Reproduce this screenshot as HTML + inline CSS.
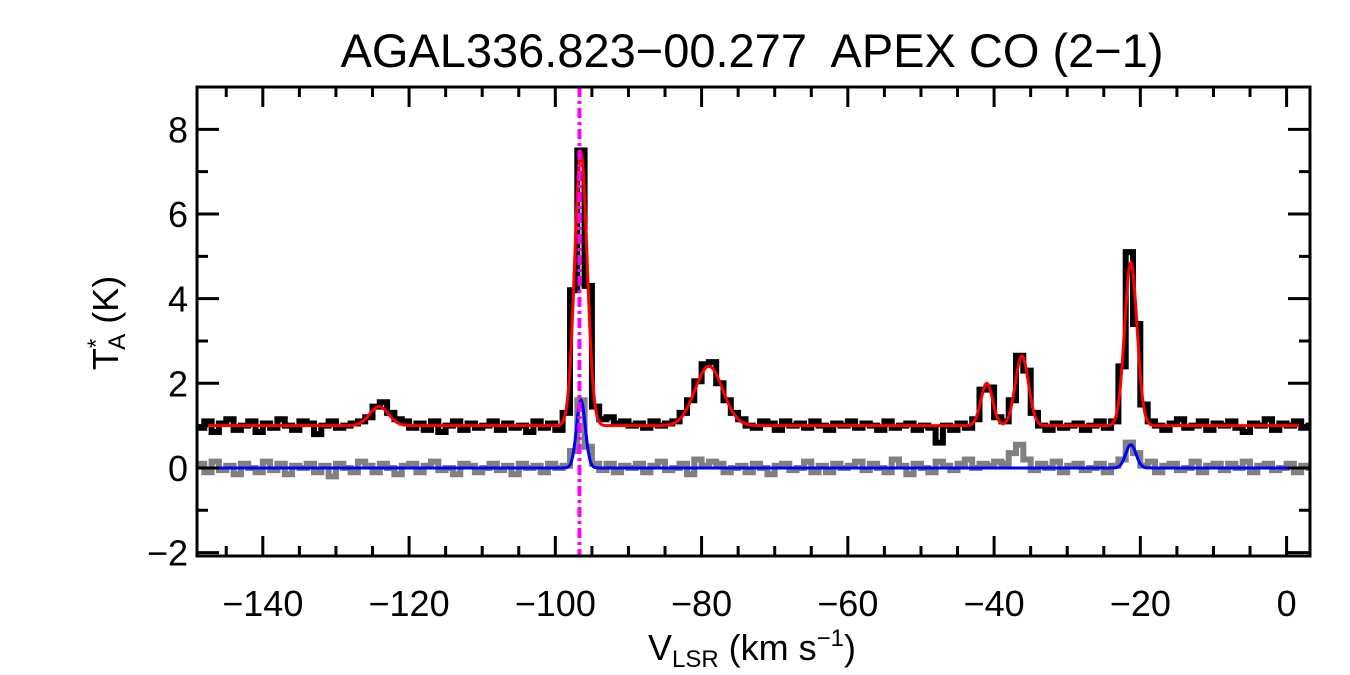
<!DOCTYPE html>
<html><head><meta charset="utf-8"><style>
html,body{margin:0;padding:0;background:#fff;}
svg{display:block;font-family:"Liberation Sans",sans-serif;}
</style></head><body>
<svg id="chart" width="1350" height="675" viewBox="0 0 1350 675" xmlns="http://www.w3.org/2000/svg">
<defs><clipPath id="plotclip"><rect x="197" y="88" width="1113" height="468"/></clipPath></defs>
<text x="752" y="67" font-size="47" text-anchor="middle" style="white-space:pre">AGAL336.823−00.277  APEX CO (2−1)</text>
<g id="series" clip-path="url(#plotclip)"></g>
<g id="axes"></g>
<text x="752" y="660" font-size="36" text-anchor="middle">V<tspan font-size="24" dy="7">LSR</tspan><tspan dy="-7"> (km s</tspan><tspan font-size="24" dy="-14">−1</tspan><tspan dy="14">)</tspan></text>
<text transform="translate(118,323) rotate(-90)" font-size="36" text-anchor="middle">T<tspan font-size="24" dy="-14">*</tspan><tspan font-size="24" dx="-11" dy="21">A</tspan><tspan dy="-7"> (K)</tspan></text>
</svg>
<script>
// ---- data ----
const channelStart = -148.5; // center of first channel, km/s
const channelWidth = 1.0;
const observed = [
0.95,1.1,0.85,1.05,1.15,0.9,1.0,1.1,0.85,1.05,
0.95,1.15,1.0,0.9,1.1,1.05,0.8,1.0,1.1,0.95,
1.0,1.05,1.1,1.2,1.45,1.55,1.3,1.15,1.1,0.95,
1.05,0.9,1.1,0.85,1.0,1.1,0.9,1.05,0.95,1.0,
1.1,0.9,1.05,0.95,1.0,0.85,1.1,0.95,1.05,0.9,
1.3,4.2,7.5,4.3,1.45,1.15,1.2,1.05,1.1,1.0,
1.05,0.95,1.1,1.0,1.05,1.1,1.3,1.6,2.05,2.45,
2.5,2.0,1.6,1.3,1.15,1.0,0.95,1.1,1.05,0.9,
1.1,1.0,1.05,0.95,1.1,1.0,0.9,1.05,1.0,1.1,
0.95,1.05,1.0,0.9,1.1,0.95,1.0,1.05,0.9,1.0,
0.95,0.6,1.0,0.9,1.05,0.95,1.15,1.85,1.9,1.2,
1.1,1.6,2.65,2.3,1.3,1.0,0.9,1.05,0.95,1.0,
1.05,0.9,1.0,1.1,0.95,1.1,2.4,5.1,3.4,1.5,
1.1,1.0,0.9,1.05,1.15,0.95,1.0,1.1,0.9,1.05,
1.0,1.1,0.95,0.85,1.05,1.0,1.15,0.9,1.05,1.0,1.1,0.95,1.0];
const residual = [
0.1,-0.1,0.15,-0.05,0.05,-0.15,0.1,0.0,-0.1,0.15,
-0.05,0.1,-0.15,0.05,0.0,0.1,-0.1,0.05,-0.2,0.1,
0.0,-0.1,0.15,0.05,-0.1,0.1,0.0,-0.15,0.05,0.1,
-0.1,0.05,0.15,-0.05,0.0,-0.15,0.1,0.05,-0.1,0.0,
0.1,-0.05,0.05,-0.15,0.1,0.0,0.05,-0.1,0.1,0.0,
0.05,0.4,1.6,0.5,0.1,-0.05,0.1,-0.1,0.05,0.0,
0.1,-0.1,0.05,0.15,-0.05,0.0,0.1,-0.15,0.2,0.05,
0.15,0.1,-0.1,0.0,0.05,-0.1,0.1,0.0,-0.15,0.05,
0.1,-0.05,0.0,0.15,-0.1,0.05,-0.1,0.1,0.0,0.05,
0.15,-0.05,0.1,0.0,-0.1,0.2,0.05,-0.15,0.1,0.0,
-0.1,0.15,0.05,-0.05,0.1,0.2,0.0,0.1,0.05,0.15,
0.1,0.35,0.55,0.2,-0.05,0.1,0.0,0.15,-0.1,0.05,
0.1,-0.05,0.0,0.1,-0.1,0.05,0.2,0.6,0.35,0.05,
0.15,-0.1,0.05,0.1,-0.05,0.0,0.15,-0.1,0.05,0.1,
-0.05,0.1,0.0,0.15,-0.1,0.05,0.1,-0.05,0.0,0.1,-0.1,0.05,0.0];
const fitBaseline = 1.0;
const fitCenters = [-124.1,-96.5,-79.0,-41.0,-36.2,-21.3];
const fitAmps    = [0.45,6.45,1.4,1.0,1.65,3.85];
const fitSigmas  = [1.3,0.85,1.9,0.8,0.9,0.85];
const resCenters = [-96.5,-21.3];
const resAmps    = [1.6,0.55];
const resSigmas  = [0.6,0.7];
const markerVelocity = -96.7;
const xTicks = [-140,-120,-100,-80,-60,-40,-20,0];
const yTicks = [-2,0,2,4,6,8];

// ---- axes ----
const X0=197,X1=1310,Y0=87,Y1=556;
const xMin=-149.0,xMax=3.2,yMin=-2.08,yMax=9.0;
const xs=v=>X0+(v-xMin)/(xMax-xMin)*(X1-X0);
const ys=v=>Y1-(v-yMin)/(yMax-yMin)*(Y1-Y0);
const NS="http://www.w3.org/2000/svg";
function mk(tag,attrs,parent){const e=document.createElementNS(NS,tag);for(const k in attrs)e.setAttribute(k,attrs[k]);parent.appendChild(e);return e;}
const S=document.getElementById('series'),A=document.getElementById('axes');

function histPath(arr){let d='';arr.forEach((v,i)=>{const c=channelStart+i*channelWidth;const a=xs(c-channelWidth/2),b=xs(c+channelWidth/2),y=ys(v);d+=(i?'L':'M')+a.toFixed(1)+','+y.toFixed(1)+'L'+b.toFixed(1)+','+y.toFixed(1);});return d;}
function gaussPath(base,cs,as,ss){let d='';for(let v=xMin;v<=xMax;v+=0.1){let y=base;cs.forEach((c,i)=>{y+=as[i]*Math.exp(-((v-c)**2)/(2*ss[i]**2));});d+=(d?'L':'M')+xs(v).toFixed(1)+','+ys(y).toFixed(1);}return d;}

const pr=mk('path',{d:histPath(residual),fill:'none',stroke:'#808080','stroke-width':6},S);


const po=mk('path',{d:histPath(observed),fill:'none',stroke:'#000','stroke-width':6},S);


const pf=mk('path',{d:gaussPath(fitBaseline,fitCenters,fitAmps,fitSigmas),fill:'none',stroke:'#ff0000','stroke-width':3},S);


const pb=mk('path',{d:gaussPath(0,resCenters,resAmps,resSigmas),fill:'none',stroke:'#0000ff','stroke-width':3},S);


const ml=mk('line',{x1:xs(markerVelocity),x2:xs(markerVelocity),y1:Y0,y2:Y1,stroke:'#ff00ff','stroke-width':4,'stroke-dasharray':'10 4 3 4'},S);



const frame=mk('rect',{x:X0,y:Y0,width:X1-X0,height:Y1-Y0,fill:'none',stroke:'#000','stroke-width':3},A);


let td='';
for(let v=-145;v<=xMax;v+=5){const x=xs(v),L=(v%20===0)?20:10;td+=`M${x},${Y1}v${-L}M${x},${Y0}v${L}`;}
for(let v=-2;v<=9;v+=1){const y=ys(v),L=(v%2===0)?22:11;td+=`M${X0},${y}h${L}M${X1},${y}h${-L}`;}
const ticks=mk('path',{d:td,stroke:'#000','stroke-width':3,fill:'none'},A);


xTicks.forEach(v=>{const t=mk('text',{x:xs(v),y:616,'font-size':36,'text-anchor':'middle'},A);t.textContent=v<0?'−'+Math.abs(v):String(v);

});
yTicks.forEach(v=>{const t=mk('text',{x:188,y:ys(v)+13,'font-size':36,'text-anchor':'end'},A);t.textContent=v<0?'−'+Math.abs(v):String(v);

});
</script>
</body></html>
